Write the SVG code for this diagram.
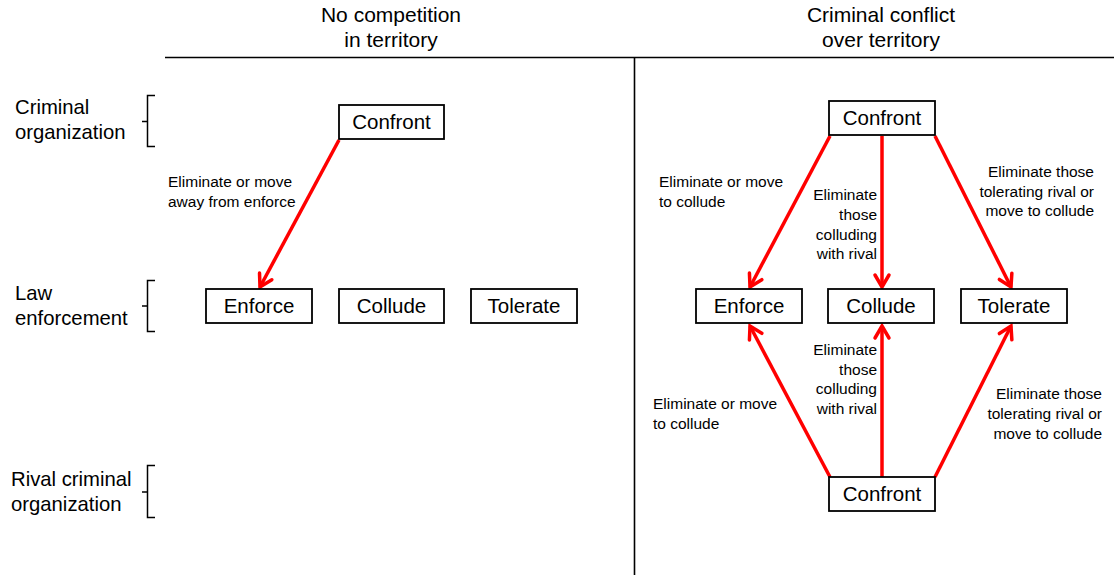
<svg xmlns="http://www.w3.org/2000/svg" width="1114" height="575" viewBox="0 0 1114 575">
<defs>
<style>
text{font-family:"Liberation Sans",Arial,sans-serif;fill:#000}
.hdr{font-size:21px;text-anchor:middle}
.row{font-size:20.3px}
.box rect{fill:#fff;stroke:#000;stroke-width:1.8}
.box text{font-size:20.5px;text-anchor:middle}
.lbl{font-size:15.5px}
.r{text-anchor:end}
.edge{stroke:#ff0000;stroke-width:3.5;fill:none;marker-end:url(#ah)}
.brk{fill:none;stroke:#000;stroke-width:1.5}
.rule{stroke:#000;stroke-width:1.6}
</style>
<marker id="ah" markerUnits="userSpaceOnUse" viewBox="-14 -10 18 20" refX="0" refY="0" markerWidth="18" markerHeight="20" orient="auto" overflow="visible">
<path d="M-12,-7 L0,0 L-12,7" fill="none" stroke="#ff0000" stroke-width="3.5" stroke-linecap="round" stroke-linejoin="miter"/>
</marker>
</defs>
<rect width="1114" height="575" fill="#fff"/>

<g id="frame">
<line class="rule" x1="165" y1="57.5" x2="1114" y2="57.5"/>
<line class="rule" x1="634.5" y1="57" x2="634.5" y2="575"/>
<text class="hdr" x="391" y="22">No competition</text>
<text class="hdr" x="391" y="47">in territory</text>
<text class="hdr" x="881" y="22">Criminal conflict</text>
<text class="hdr" x="881" y="47">over territory</text>
</g>

<g id="row-criminal">
<text class="row" x="15" y="114">Criminal</text>
<text class="row" x="15" y="139">organization</text>
<path class="brk" d="M155,95.5 H147.5 V146.5 H155 M147.5,121.5 H142"/>
</g>
<g id="row-law">
<text class="row" x="15" y="300">Law</text>
<text class="row" x="15" y="325">enforcement</text>
<path class="brk" d="M155,280.5 H147.5 V331.5 H155 M147.5,306 H142"/>
</g>
<g id="row-rival">
<text class="row" x="11" y="486">Rival criminal</text>
<text class="row" x="11" y="511">organization</text>
<path class="brk" d="M155,465.5 H147.5 V517.5 H155 M147.5,492 H142"/>
</g>

<g id="connectors">
<line class="edge" x1="339" y1="140" x2="260" y2="287"/>
<line class="edge" x1="830" y1="136" x2="750" y2="287"/>
<line class="edge" x1="882" y1="136" x2="882" y2="287"/>
<line class="edge" x1="935" y1="136" x2="1011" y2="287"/>
<line class="edge" x1="830" y1="477" x2="750" y2="326"/>
<line class="edge" x1="882" y1="477" x2="882" y2="326"/>
<line class="edge" x1="935" y1="477" x2="1011" y2="326"/>
</g>

<g id="edge-labels">
<text class="lbl" x="168" y="187">Eliminate or move</text>
<text class="lbl" x="168" y="207">away from enforce</text>
<text class="lbl" x="659" y="187">Eliminate or move</text>
<text class="lbl" x="659" y="207">to collude</text>
<text class="lbl r" x="877" y="200">Eliminate</text>
<text class="lbl r" x="877" y="220">those</text>
<text class="lbl r" x="877" y="240">colluding</text>
<text class="lbl r" x="877" y="259">with rival</text>
<text class="lbl r" x="1094" y="177">Eliminate those</text>
<text class="lbl r" x="1094" y="197">tolerating rival or</text>
<text class="lbl r" x="1094" y="216">move to collude</text>
<text class="lbl" x="653" y="409">Eliminate or move</text>
<text class="lbl" x="653" y="429">to collude</text>
<text class="lbl r" x="877" y="355">Eliminate</text>
<text class="lbl r" x="877" y="375">those</text>
<text class="lbl r" x="877" y="394">colluding</text>
<text class="lbl r" x="877" y="414">with rival</text>
<text class="lbl r" x="1102" y="399">Eliminate those</text>
<text class="lbl r" x="1102" y="419">tolerating rival or</text>
<text class="lbl r" x="1102" y="439">move to collude</text>
</g>

<g id="left-confront" class="box"><rect x="339" y="105" width="105" height="34"/><text x="391.5" y="129">Confront</text></g>
<g id="left-enforce" class="box"><rect x="206" y="289" width="106" height="34"/><text x="259" y="313">Enforce</text></g>
<g id="left-collude" class="box"><rect x="339" y="289" width="105" height="34"/><text x="391.5" y="313">Collude</text></g>
<g id="left-tolerate" class="box"><rect x="471" y="289" width="106" height="34"/><text x="524" y="313">Tolerate</text></g>

<g id="right-confront-top" class="box"><rect x="829" y="101" width="106" height="34"/><text x="882" y="125">Confront</text></g>
<g id="right-enforce" class="box"><rect x="696" y="289" width="106" height="34"/><text x="749" y="313">Enforce</text></g>
<g id="right-collude" class="box"><rect x="828" y="289" width="106" height="34"/><text x="881" y="313">Collude</text></g>
<g id="right-tolerate" class="box"><rect x="961" y="289" width="106" height="34"/><text x="1014" y="313">Tolerate</text></g>
<g id="right-confront-bottom" class="box"><rect x="829" y="477" width="106" height="34"/><text x="882" y="501">Confront</text></g>
</svg>
